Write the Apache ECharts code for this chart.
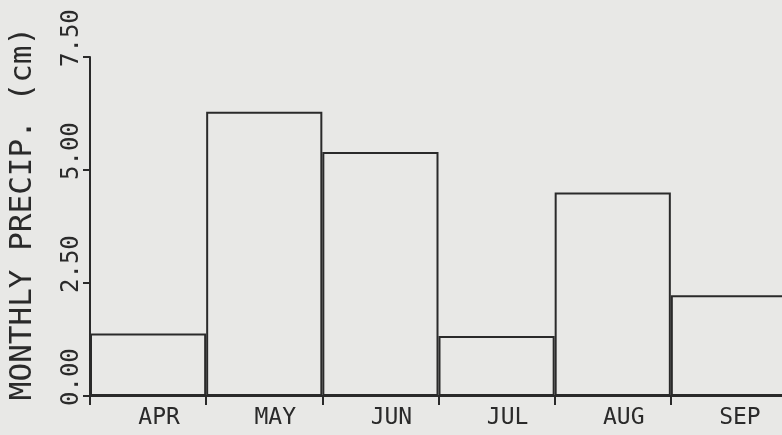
<!DOCTYPE html>
<html>
<head>
<meta charset="utf-8">
<script src="https://cdn.jsdelivr.net/npm/echarts@6/dist/echarts.min.js"></script>
<style>
  html, body { margin: 0; padding: 0; background: #e8e8e6; }
  #chart { width: 782px; height: 435px; }
</style>
</head>
<body>
<div id="chart"></div>
<script>
// Monthly precipitation, April through September (cm)
const months = ['APR', 'MAY', 'JUN', 'JUL', 'AUG', 'SEP'];
const precipCm = [1.38, 6.29, 5.40, 1.33, 4.50, 2.23];
const yTicks = [0, 2.5, 5, 7.5];

const ink = '#2a2a2a';
const font = 'DejaVu Sans Mono';

const chart = echarts.init(document.getElementById('chart'), null, { renderer: 'canvas' });

chart.setOption({
  backgroundColor: '#e8e8e6',
  animation: false,
  // the plot runs a little past the right edge of the page
  grid: { left: 90, top: 57, bottom: 39, width: 697, containLabel: false, outerBoundsMode: 'none' },
  xAxis: {
    type: 'category',
    data: months,
    boundaryGap: true,
    axisLine: { show: true, lineStyle: { color: ink, width: 2 } },
    axisTick: { show: true, length: 9, lineStyle: { color: ink, width: 2 } },
    axisLabel: {
      color: ink,
      fontFamily: font,
      fontSize: 23,
      margin: 11,
      interval: 0,
      padding: [0, 0, 0, 22]
    },
    splitLine: { show: false }
  },
  yAxis: {
    type: 'value',
    min: yTicks[0],
    max: yTicks[yTicks.length - 1],
    interval: yTicks[1] - yTicks[0],
    name: 'MONTHLY PRECIP. (cm)',
    nameLocation: 'middle',
    nameRotate: 90,
    nameGap: 52,
    nameTextStyle: {
      color: ink,
      fontFamily: font,
      fontSize: 31,
      padding: [0, 0, 0, 26]
    },
    axisLine: { show: true, lineStyle: { color: ink, width: 2 } },
    axisTick: { show: true, length: 7, lineStyle: { color: ink, width: 2 } },
    axisLabel: {
      color: ink,
      fontFamily: font,
      fontSize: 24,
      rotate: 90,
      align: 'left',
      verticalAlign: 'bottom',
      margin: 6,
      padding: [0, 0, 0, -10],
      formatter: v => v.toFixed(2)
    },
    splitLine: { show: false }
  },
  series: [{
    type: 'bar',
    data: precipCm,
    barWidth: '100%',
    barCategoryGap: 0,
    itemStyle: {
      color: 'rgba(0,0,0,0)',
      borderColor: ink,
      borderWidth: 2
    },
    emphasis: { disabled: true }
  }]
});
</script>
</body>
</html>
